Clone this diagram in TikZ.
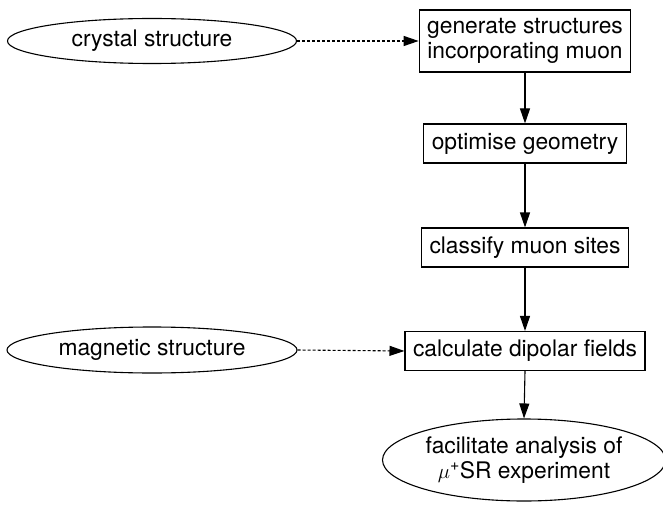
\documentclass[tikz,border=0pt]{standalone}
\usepackage{fontspec}
\setmainfont{TeX Gyre Heros}
\usetikzlibrary{shapes.geometric,arrows.meta}
\begin{document}
\begin{tikzpicture}[x=1pt,y=-1pt,
  every node/.style={font=\fontsize{22.8}{25}\selectfont},
  procbox/.style={draw, line width=1.1pt, rectangle, inner xsep=8pt, inner ysep=0pt, minimum height=39pt, align=center},
  inellipse/.style={draw, line width=1.1pt, ellipse, inner sep=0pt, align=center},
  flow/.style={line width=1.1pt, -{Triangle[length=15pt,width=10pt]}},
  dflow/.style={line width=1.1pt, dash pattern=on 3pt off 2pt, -{Triangle[length=15pt,width=10pt]}}
]
\useasboundingbox (0,0) rectangle (663,505);
\node[inellipse, minimum width=289pt, minimum height=45pt] (e1) at (152,41) {crystal structure};
\node[inellipse, minimum width=290pt, minimum height=46pt] (e2) at (152,350) {magnetic structure};
\node[procbox, minimum height=62pt] (b1) at (525,41) {generate structures\\incorporating muon};
\node[procbox] (b2) at (525,143.5) {optimise geometry};
\node[procbox] (b3) at (525,247.5) {classify muon sites};
\node[procbox] (b4) at (525,351) {calculate dipolar fields};
\node[inellipse, minimum width=283pt, minimum height=82pt] (e3) at (524,460) {facilitate analysis of\\$\mu$\textsuperscript{+}SR experiment};
\draw[dflow] (e1.east) -- (b1.west);
\draw[dflow] (e2.east) -- (b4.west);
\draw[flow] (b1.south) -- (b2.north);
\draw[flow] (b2.south) -- (b3.north);
\draw[flow] (b3.south) -- (b4.north);
\draw[flow] (b4.south) -- (e3.north);
\end{tikzpicture}
\end{document}
